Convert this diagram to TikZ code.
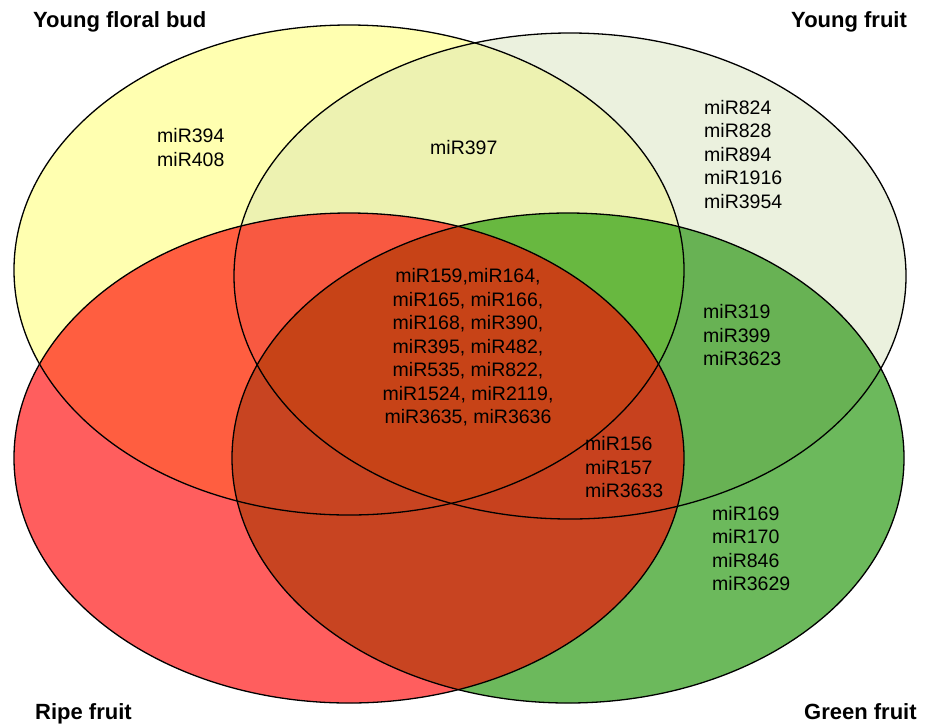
\documentclass[tikz,border=0pt]{standalone}
\usepackage{fontspec}
\setmainfont{Liberation Sans}

\definecolor{budyellow}{RGB}{255,255,176}
\definecolor{youngfruit}{RGB}{235,241,222}
\definecolor{budyoung}{RGB}{237,242,177}
\definecolor{greenfruit}{RGB}{108,185,92}
\definecolor{greenyoung}{RGB}{104,178,84}
\definecolor{greenbudyoung}{RGB}{104,184,64}

\tikzset{
  mirlist/.style={font=\fontsize{19.5}{23.5}\selectfont, inner sep=0pt, align=left},
  stagetitle/.style={font=\fontsize{22}{24}\selectfont\bfseries, inner sep=0pt, anchor=base west},
  rim/.style={line width=1.3pt, black}
}

% the four sets
\def\budset{(349,270) ellipse (335pt and 245pt)}
\def\youngset{(570,276) ellipse (336pt and 243pt)}
\def\ripeset{(349,458) ellipse (335pt and 245pt)}
\def\greenset{(568,458) ellipse (336pt and 245pt)}

\begin{document}
\begin{tikzpicture}[x=1pt,y=-1pt]
\useasboundingbox (0,0) rectangle (933,724);

% fills
\fill[budyellow] \budset;
\fill[youngfruit] \youngset;
\begin{scope}
  \clip \budset;
  \fill[budyoung] \youngset;
\end{scope}
\fill[greenfruit] \greenset;
\begin{scope}
  \clip \greenset;
  \fill[greenyoung] \youngset;
  \clip \budset;
  \fill[greenbudyoung] \youngset;
\end{scope}
\fill[red, opacity=0.63] \ripeset;

% outlines
\draw[rim] \budset;
\draw[rim] \youngset;
\draw[rim] \ripeset;
\draw[rim] \greenset;

% titles
\node[stagetitle] (budtitle) at (33,27) {Young floral bud};
\node[stagetitle] (youngtitle) at (791,27) {Young fruit};
\node[stagetitle] (ripetitle) at (35,719) {Ripe fruit};
\node[stagetitle] (greentitle) at (804,719) {Green fruit};

% mirna lists
\node[mirlist, anchor=west] (budonly) at (157,147.5) {miR394\\miR408};
\node[mirlist, anchor=west] (budyoungmir) at (430,148) {miR397};
\node[mirlist, anchor=west] (youngonly) at (704,154.5) {miR824\\miR828\\miR894\\miR1916\\miR3954};
\node[mirlist, anchor=west] (greenyoungmir) at (703,335.5) {miR319\\miR399\\miR3623};
\node[mirlist, align=center] (allmir) at (468,347.5) {miR159,miR164,\\miR165, miR166,\\miR168, miR390,\\miR395, miR482,\\miR535, miR822,\\miR1524, miR2119,\\miR3635, miR3636};
\node[mirlist, anchor=west] (ripegreenmir) at (585,467.5) {miR156\\miR157\\miR3633};
\node[mirlist, anchor=west] (greenonly) at (712,548.5) {miR169\\miR170\\miR846\\miR3629};
\end{tikzpicture}
\end{document}
